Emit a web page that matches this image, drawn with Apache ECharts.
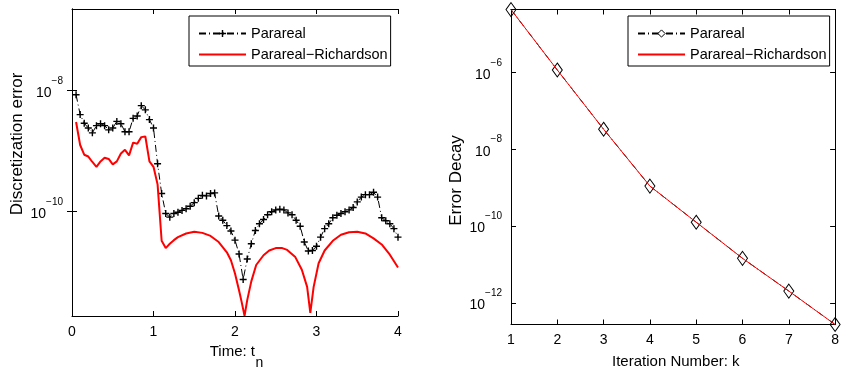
<!DOCTYPE html>
<html>
<head>
<meta charset="utf-8">
<script src="https://cdn.jsdelivr.net/npm/echarts@6/dist/echarts.min.js"></script>
<style>
html,body{margin:0;padding:0;background:#fff;}
#wrap{position:relative;width:842px;height:372px;}
#left{position:absolute;left:0;top:0;width:421px;height:372px;}
#right{position:absolute;left:421px;top:0;width:421px;height:372px;}
</style>
</head>
<body>
<div id="wrap"><div id="left"></div><div id="right"></div></div>
<script>
// ---------- Left panel: discretization error vs time ----------
var timeGrid = [0.05,0.10,0.15,0.20,0.25,0.30,0.35,0.40,0.45,0.50,
  0.55,0.60,0.65,0.70,0.75,0.80,0.85,0.90,0.95,1.00,
  1.05,1.10,1.15,1.20,1.25,1.30,1.35,1.40,1.45,1.50,
  1.55,1.60,1.65,1.70,1.75,1.80,1.85,1.90,1.95,2.00,
  2.05,2.10,2.15,2.20,2.25,2.30,2.35,2.40,2.45,2.50,
  2.55,2.60,2.65,2.70,2.75,2.80,2.85,2.90,2.95,3.00,
  3.05,3.10,3.15,3.20,3.25,3.30,3.35,3.40,3.45,3.50,
  3.55,3.60,3.65,3.70,3.75,3.80,3.85,3.90,3.95,4.00];
var pararealError = [8.5e-9,4.0e-9,2.88e-9,2.40e-9,2.0e-9,2.63e-9,2.82e-9,2.63e-9,2.24e-9,2.40e-9,
  3.09e-9,2.82e-9,2.09e-9,2.09e-9,3.47e-9,3.80e-9,5.62e-9,4.79e-9,3.31e-9,2.40e-9,
  6.17e-10,2.0e-10,9.33e-11,8.13e-11,9.33e-11,9.77e-11,1.05e-10,1.12e-10,1.23e-10,1.41e-10,
  1.66e-10,1.86e-10,1.82e-10,2.0e-10,2.04e-10,8.51e-11,7.24e-11,5.89e-11,4.79e-11,3.39e-11,
  2.0e-11,7.59e-12,1.66e-11,2.95e-11,4.90e-11,6.31e-11,7.41e-11,8.91e-11,1.0e-10,1.07e-10,
  1.10e-10,1.07e-10,9.55e-11,8.91e-11,7.24e-11,5.75e-11,3.16e-11,2.24e-11,2.29e-11,2.69e-11,
  3.80e-11,5.25e-11,6.31e-11,7.94e-11,8.71e-11,9.33e-11,1.0e-10,1.07e-10,1.17e-10,1.45e-10,
  1.74e-10,1.91e-10,1.91e-10,2.09e-10,1.74e-10,7.94e-11,7.08e-11,6.31e-11,5.25e-11,3.80e-11];
var richardsonTime = [0.05,0.10,0.15,0.20,0.25,0.30,0.35,0.40,0.45,0.50,
  0.55,0.60,0.65,0.70,0.75,0.80,0.85,0.90,0.95,1.00,
  1.05,1.10,1.15,1.20,1.25,1.30,1.40,1.50,1.60,1.70,
  1.80,1.90,1.95,2.00,2.05,2.08,2.117,2.15,2.20,2.26,
  2.35,2.42,2.50,2.58,2.64,2.74,2.82,2.885,2.924,2.965,
  3.026,3.10,3.20,3.30,3.40,3.50,3.60,3.70,3.80,3.90,4.00];
var richardsonError = [3.02e-9,1.26e-9,8.71e-10,8.13e-10,6.61e-10,5.50e-10,6.76e-10,7.76e-10,7.41e-10,6.03e-10,
  6.76e-10,9.12e-10,1.05e-9,8.51e-10,1.38e-9,1.32e-9,1.70e-9,1.74e-9,6.76e-10,5.50e-10,
  2.82e-10,3.31e-11,2.51e-11,2.95e-11,3.39e-11,3.80e-11,4.37e-11,4.68e-11,4.47e-11,3.98e-11,
  3.16e-11,2.14e-11,1.58e-11,9.55e-12,5.01e-12,3.31e-12,1.91e-12,3.47e-12,7.08e-12,1.32e-11,
  1.91e-11,2.29e-11,2.51e-11,2.51e-11,2.34e-11,1.78e-11,1.10e-11,5.75e-12,2.14e-12,5.75e-12,
  1.41e-11,2.29e-11,3.31e-11,4.17e-11,4.57e-11,4.68e-11,4.37e-11,3.63e-11,2.88e-11,1.95e-11,1.20e-11];
var leftXTicks = [0, 1, 2, 3, 4];
var leftYTicks = [1e-10, 1e-8];

// ---------- Right panel: error decay vs iteration ----------
var iterations = [1, 2, 3, 4, 5, 6, 7, 8];
var pararealDecay = [4.3e-5, 1.15e-6, 3.31e-8, 1.10e-9, 1.26e-10, 1.45e-11, 2.04e-12, 2.75e-13];
var richardsonDecay = [4.3e-5, 1.15e-6, 3.31e-8, 1.10e-9, 1.26e-10, 1.45e-11, 2.04e-12, 2.75e-13];
var rightYTicks = [1e-12, 1e-10, 1e-8, 1e-6];

var FONT = "'Liberation Sans', Arial, Helvetica, sans-serif";
var PLUS = 'path://M4,0H6V4H10V6H6V10H4V6H0V4H4Z';
var DASHDOT = [7, 3, 1, 3];
var NAME_P = 'Parareal';
var NAME_R = 'Parareal\u2212Richardson';

function powLabel(v) {
  var e = Math.round(Math.log10(v));
  return '{b|10}{s|' + (e < 0 ? '\u2212' + (-e) : e) + '}';
}
var powRich = {
  b: {fontSize: 14, lineHeight: 24, verticalAlign: 'bottom', fontFamily: FONT, color: '#000'},
  s: {fontSize: 10, lineHeight: 13, verticalAlign: 'top', fontFamily: FONT, color: '#000'}
};

function makeXAxes(min, max, ticks) {
  var base = {
    type: 'value', min: min, max: max, interval: 1,
    axisLine: {show: true, lineStyle: {color: '#000', width: 1}},
    axisTick: {show: true, inside: true, length: 5, lineStyle: {color: '#000'}},
    splitLine: {show: false}
  };
  return [
    Object.assign({}, base, {position: 'bottom',
      axisLabel: {show: true, margin: 9, color: '#000', fontSize: 14, fontFamily: FONT}}),
    Object.assign({}, base, {position: 'top', axisLabel: {show: false}})
  ];
}
function makeYAxes(min, max, ticks) {
  var base = {
    type: 'log', logBase: 10, min: min, max: max,
    axisLine: {show: true, lineStyle: {color: '#000', width: 1}},
    axisTick: {show: true, inside: true, length: 5, customValues: ticks, lineStyle: {color: '#000'}},
    splitLine: {show: false}, minorTick: {show: false}
  };
  return [
    Object.assign({}, base, {position: 'left',
      axisLabel: {show: true, margin: 9, padding: [0, 0, 5, 0], customValues: ticks, formatter: powLabel, rich: powRich}}),
    Object.assign({}, base, {position: 'right', axisLabel: {show: false, customValues: ticks}})
  ];
}
function legendBox(left, pItemStyle) {
  var pItem = {name: NAME_P};
  if (pItemStyle) pItem.itemStyle = pItemStyle;
  return {
    orient: 'vertical', left: left, top: 16,
    itemWidth: 47, itemHeight: 9, itemGap: 6,
    padding: [10, 3, 4, 9],
    borderColor: '#000', borderWidth: 1, borderRadius: 0,
    backgroundColor: '#fff', selectedMode: false,
    textStyle: {fontSize: 14.5, color: '#000', fontFamily: FONT},
    data: [pItem, {name: NAME_R, itemStyle: {opacity: 0}}]
  };
}

// Left chart
var leftChart = echarts.init(document.getElementById('left'), null, {renderer: 'canvas'});
leftChart.setOption({
  animation: false,
  grid: {left: 72, top: 9, width: 326, height: 307, containLabel: false},
  xAxis: makeXAxes(0, 4, leftXTicks),
  yAxis: makeYAxes(1.9e-12, 2.21e-7, leftYTicks),
  legend: legendBox(189),
  series: [
    {name: NAME_P, type: 'line', xAxisIndex: 0, yAxisIndex: 0,
     data: timeGrid.map(function (t, i) { return [t, pararealError[i]]; }),
     symbol: PLUS, symbolSize: 7, showSymbol: true,
     itemStyle: {color: '#000'},
     lineStyle: {color: '#000', width: 1, type: DASHDOT}, z: 2},
    {name: NAME_R, type: 'line', xAxisIndex: 0, yAxisIndex: 0,
     data: richardsonTime.map(function (t, i) { return [t, richardsonError[i]]; }),
     symbol: 'none', itemStyle: {color: '#ff0000'},
     lineStyle: {color: '#ff0000', width: 2}, z: 3}
  ],
  graphic: [
    {type: 'text', x: 17, y: 144, rotation: Math.PI / 2,
     style: {text: 'Discretization error', fontSize: 17, fontFamily: FONT, fill: '#000', align: 'center', verticalAlign: 'middle'}},
    {type: 'text', x: 255, y: 352,
     style: {text: 'Time: t', fontSize: 15, fontFamily: FONT, fill: '#000', align: 'right', verticalAlign: 'middle'}},
    {type: 'text', x: 255.5, y: 363,
     style: {text: 'n', fontSize: 14, fontFamily: FONT, fill: '#000', align: 'left', verticalAlign: 'middle'}}
  ]
});

// Right chart
var rightChart = echarts.init(document.getElementById('right'), null, {renderer: 'canvas'});
rightChart.setOption({
  animation: false,
  grid: {left: 90, top: 9.5, width: 327, height: 315, containLabel: false},
  xAxis: makeXAxes(1, 8, iterations),
  yAxis: makeYAxes(2.75e-13, 4.32e-5, rightYTicks),
  legend: legendBox(207, {color: '#fff', borderColor: '#000', borderWidth: 1}),
  series: [
    {name: NAME_P, type: 'line', data: iterations.map(function (k, i) { return [k, pararealDecay[i]]; }),
     symbol: 'diamond', symbolSize: [10, 14], clip: false,
     itemStyle: {color: 'rgba(0,0,0,0)', borderColor: '#000', borderWidth: 1},
     lineStyle: {color: '#000', width: 1, type: DASHDOT}, z: 2},
    {name: NAME_R, type: 'line', data: iterations.map(function (k, i) { return [k, richardsonDecay[i]]; }),
     symbol: 'none', clip: false, itemStyle: {color: '#ff0000'},
     lineStyle: {color: '#ff0000', width: 1}, z: 3}
  ],
  graphic: [
    {type: 'text', x: 35.7, y: 180.5, rotation: Math.PI / 2,
     style: {text: 'Error Decay', fontSize: 17, fontFamily: FONT, fill: '#000', align: 'center', verticalAlign: 'middle'}},
    {type: 'text', x: 254.8, y: 361.5,
     style: {text: 'Iteration Number: k', fontSize: 15, fontFamily: FONT, fill: '#000', align: 'center', verticalAlign: 'middle'}}
  ]
});
</script>
</body>
</html>
